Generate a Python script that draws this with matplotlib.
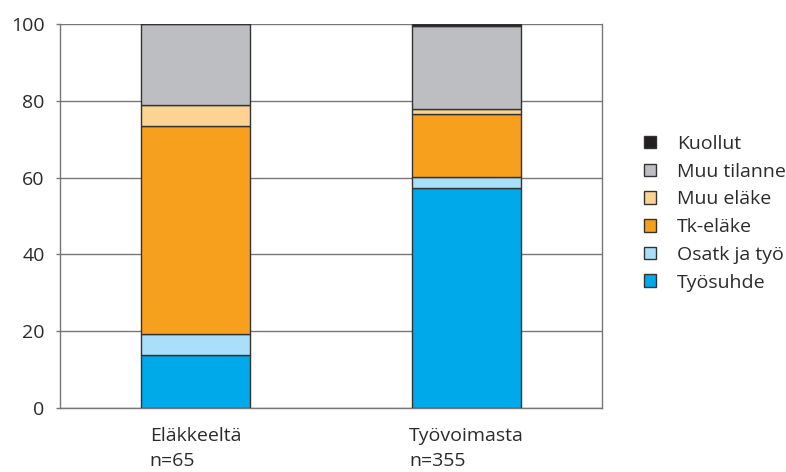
import matplotlib
matplotlib.use("Agg")
import matplotlib.pyplot as plt
import numpy as np

plt.rcParams['font.family'] = ['Open Sans', 'DejaVu Sans']

groups = ["Eläkkeeltä\nn=65", "Työvoimasta\nn=355"]
series = ["Työsuhde", "Osatk ja työ", "Tk-eläke", "Muu eläke", "Muu tilanne", "Kuollut"]
tyosuhde = [13.9, 57.3]
osatk = [5.4, 2.9]
tk_elake = [54.1, 16.4]
muu_elake = [5.5, 1.2]
muu_tilanne = [21.1, 21.6]
kuollut = [0.0, 0.6]
colors = ["#00aaea", "#aadff9", "#f7a01e", "#fdd394", "#bdbec2", "#231f20"]

values = [tyosuhde, osatk, tk_elake, muu_elake, muu_tilanne, kuollut]

fig = plt.figure(figsize=(7.86, 4.72), dpi=100)
ax = fig.add_axes([0.0763, 0.1356, 0.6895, 0.8136])

x = np.arange(len(groups))
bottom = np.zeros(len(groups))
handles = []
for name, vals, c in zip(series, values, colors):
    b = ax.bar(x, vals, 0.4, bottom=bottom, color=c, edgecolor="#333333",
               linewidth=1, label=name, zorder=3)
    handles.append(b)
    bottom += np.array(vals)

ax.set_xlim(-0.5, 1.5)
ax.set_ylim(0, 100)
ax.set_yticks([0, 20, 40, 60, 80, 100])
ax.yaxis.grid(True, color="#777777", linewidth=1, zorder=0)
ax.set_xticks(x)
ax.set_xticklabels(groups, multialignment="left", linespacing=1.5)
ax.tick_params(axis="x", length=0, pad=14, labelsize=14, labelcolor="#2b2b2b")
ax.tick_params(axis="y", length=3, width=1, color="#777777", pad=8,
               labelsize=14, labelcolor="#2b2b2b")
for s in ["left", "right", "bottom"]:
    ax.spines[s].set_color("#777777")
    ax.spines[s].set_linewidth(1)
ax.spines["top"].set_visible(False)

leg = ax.legend(handles[::-1], series[::-1], loc="center left",
                bbox_to_anchor=(1.045, 0.507), frameon=False, fontsize=14,
                handlelength=0.62, handleheight=0.62, labelspacing=0.5,
                handletextpad=1.1, labelcolor="#2b2b2b")

fig.savefig("out.png", dpi=100)
